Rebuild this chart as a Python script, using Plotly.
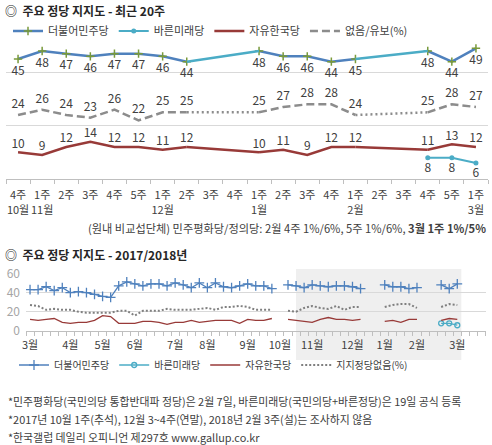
import plotly.graph_objects as go

W, H = 492, 445
FONT = "Noto Sans CJK KR"

# ---------------- data: top chart (recent 20 weeks) ----------------
top_weeks = ["4주", "1주", "2주", "3주", "4주", "5주", "1주", "2주", "3주", "4주",
             "1주", "2주", "3주", "4주", "1주", "2주", "3주", "4주", "5주", "1주"]
top_months = ["10월", "11월", "", "", "", "", "12월", "", "", "",
              "1월", "", "", "", "2월", "", "", "", "", "3월"]
top_minju = [45, 48, 47, 46, 47, 47, 46, 44, None, None, 48, 46, 46, 44, 45, None, None, 48, 44, 49]
top_bareun = [None] * 17 + [8, 8, 6]
top_jayu = [10, 9, 12, 14, 12, 12, 11, 12, None, None, 10, 11, 9, 12, 12, None, None, 11, 13, 12]
top_none = [24, 26, 24, 23, 26, 22, 25, 25, None, None, 25, 27, 28, 28, 24, None, None, 25, 28, 27]

# ---------------- data: bottom chart (2017/2018 weekly) ----------------
# weeks from 2017-03 wk1 up to 2017-10 wk3 (10월 1주 not surveyed), then the 20 weeks above
early_minju = [43, 43, 46, 42, 45, 40, 41, 40, 38, 36, 35, 47, 51, 49, 47, 49, 49, 47, 50,
               48, 45, 50, 45, 50, 46, 45, 47, 49, 47, 47, 44, None, 48, 47]
early_jayu = [12, 11, 12, 13, 9, 8, 9, 9, 11, 16, 15, 8, 8, 8, 10, 10, 9, 7, 9,
              9, 11, 9, 10, 11, 11, 11, 8, 12, 11, 11, 13, None, 12, 11]
early_none = [27, 26, 22, 23, 22, 22, 20, 19, 19, 19, 19, 21, 21, 16, 21, 21, 21, 23, 22,
              22, 22, 23, 24, 22, 25, 25, 26, 25, 22, 22, 22, None, 21, 20]
early_bareun = [None] * 34

bottom_minju = early_minju + top_minju
bottom_jayu = early_jayu + top_jayu
bottom_none = early_none + top_none
bottom_bareun = early_bareun + top_bareun

bottom_month_ticks = [0, 5, 9, 13, 18, 22, 27, 31, 35, 40, 44, 48, 53]
bottom_month_labels = ["3월", "4월", "5월", "6월", "7월", "8월", "9월", "10월",
                       "11월", "12월", "1월", "2월", "3월"]

names_top = ["더불어민주당", "바른미래당", "자유한국당", "없음/유보(%)"]
names_bottom = ["더불어민주당", "바른미래당", "자유한국당", "지지정당없음(%)"]

BLUE = "#4f81bd"
TEAL = "#4bacc6"
RED = "#983a38"
GRAY = "#8c8c8c"
GREEN = "#7a9a3a"
TXT = "#404040"


def px_x(p):
    return p / W


def px_y(p):
    return 1 - p / H


def bridges(vals):
    xs, ys = [], []
    i, n = 0, len(vals)
    while i < n:
        if vals[i] is None and i > 0 and vals[i - 1] is not None:
            j = i
            while j < n and vals[j] is None:
                j += 1
            if j < n:
                xs += [i - 1, j, None]
                ys += [vals[i - 1], vals[j], None]
            i = j
        else:
            i += 1
    return xs, ys


fig = go.Figure()
xt = list(range(len(top_weeks)))

# ---- top chart traces ----
fig.add_trace(go.Scatter(x=xt, y=top_minju, name=names_top[0], mode="lines+markers",
                         line=dict(color=BLUE, width=2.5),
                         marker=dict(symbol="cross-thin", size=6, line=dict(color=GREEN, width=1.5)),
                         legend="legend", xaxis="x", yaxis="y"))
bx, by = bridges(top_minju)
fig.add_trace(go.Scatter(x=bx, y=by, mode="lines", line=dict(color=TEAL, width=2.5),
                         showlegend=False, hoverinfo="skip", xaxis="x", yaxis="y"))
fig.add_trace(go.Scatter(x=xt, y=top_bareun, name=names_top[1], mode="lines+markers",
                         line=dict(color=TEAL, width=2),
                         marker=dict(symbol="circle", size=5, color=TEAL),
                         legend="legend", xaxis="x", yaxis="y"))
fig.add_trace(go.Scatter(x=xt, y=top_jayu, name=names_top[2], mode="lines",
                         line=dict(color=RED, width=2.5),
                         legend="legend", xaxis="x", yaxis="y"))
bx, by = bridges(top_jayu)
fig.add_trace(go.Scatter(x=bx, y=by, mode="lines", line=dict(color=RED, width=2.5),
                         showlegend=False, hoverinfo="skip", xaxis="x", yaxis="y"))
fig.add_trace(go.Scatter(x=xt, y=top_none, name=names_top[3], mode="lines",
                         line=dict(color=GRAY, width=2.5, dash="8px,4px"),
                         legend="legend", xaxis="x", yaxis="y"))
bx, by = bridges(top_none)
fig.add_trace(go.Scatter(x=bx, y=by, mode="lines", line=dict(color=GRAY, width=2.5, dash="2px,3px"),
                         showlegend=False, hoverinfo="skip", xaxis="x", yaxis="y"))

# data labels (invisible markers only set the label offset)
for k, (vals, pos, msize) in enumerate([(top_minju, "bottom center", 9),
                                        (top_bareun, "bottom center", 7),
                                        (top_jayu, "top center", 1),
                                        (top_none, "top center", 5)]):
    fig.add_trace(go.Scatter(x=xt, y=vals, mode="markers+text",
                             marker=dict(size=msize, color="rgba(0,0,0,0)"),
                             text=[("" if v is None else str(v)) for v in vals],
                             textposition=pos, textfont=dict(size=12, color=TXT, family=FONT),
                             showlegend=False, hoverinfo="skip",
                             xaxis=("x3" if k == 0 else "x"), yaxis="y"))

# ---- bottom chart traces ----
xb = list(range(len(bottom_minju)))
fig.add_trace(go.Scatter(x=xb, y=bottom_minju, name=names_bottom[0], mode="lines+markers",
                         line=dict(color=BLUE, width=1.3),
                         marker=dict(symbol="cross-thin", size=7, line=dict(color=BLUE, width=1.3)),
                         legend="legend2", xaxis="x2", yaxis="y2"))
fig.add_trace(go.Scatter(x=xb, y=bottom_bareun, name=names_bottom[1], mode="lines+markers",
                         line=dict(color=TEAL, width=1.3),
                         marker=dict(symbol="circle-open", size=5, color=TEAL, line=dict(width=1.3)),
                         legend="legend2", xaxis="x2", yaxis="y2"))
fig.add_trace(go.Scatter(x=xb, y=bottom_jayu, name=names_bottom[2], mode="lines",
                         line=dict(color=RED, width=1.3),
                         legend="legend2", xaxis="x2", yaxis="y2"))
fig.add_trace(go.Scatter(x=xb, y=bottom_none, name=names_bottom[3], mode="lines",
                         line=dict(color="#7f7f7f", width=2, dash="2px,2px"),
                         legend="legend2", xaxis="x2", yaxis="y2"))

axis_line = "#bfbfbf"
grid = "#d9d9d9"
month_idx = [i for i, m in enumerate(top_months) if m]

fig.update_layout(
    width=W, height=H,
    margin=dict(l=0, r=0, t=0, b=0, autoexpand=False),
    paper_bgcolor="white", plot_bgcolor="rgba(0,0,0,0)",
    font=dict(family=FONT, color=TXT, size=11),
    showlegend=True,
    xaxis=dict(domain=[px_x(6), px_x(488)], range=[-0.5, 19.5],
               tickmode="array", tickvals=xt, ticktext=top_weeks, tickangle=0,
               ticks="", showline=True, linecolor=axis_line, linewidth=1,
               showgrid=False, zeroline=False, ticklabelstandoff=6,
               tickfont=dict(size=11, color=TXT),
               minor=dict(tickmode="array", tickvals=[i - 0.5 for i in range(21)],
                          ticks="outside", ticklen=4, tickcolor=axis_line, showgrid=False),
               fixedrange=True),
    xaxis3=dict(overlaying="x", anchor="y", side="bottom", range=[-0.5, 19.5],
                tickmode="array", tickvals=month_idx,
                ticktext=[top_months[i] for i in month_idx], tickangle=0,
                ticks="", showline=False, showgrid=False, zeroline=False,
                ticklabelstandoff=23, tickfont=dict(size=11, color=TXT), fixedrange=True),
    yaxis=dict(domain=[px_y(179), px_y(19)], range=[0, 60],
               tickmode="array", tickvals=[0, 20, 40, 60], showticklabels=False,
               gridcolor=grid, zeroline=False, showline=False, ticks="", fixedrange=True),
    xaxis2=dict(domain=[px_x(26), px_x(485.5)], range=[-0.5, 56.5], anchor="y2",
                tickmode="array", tickvals=bottom_month_ticks, ticktext=bottom_month_labels,
                tickangle=0,
                ticks="", showline=True, linecolor=axis_line, linewidth=1,
                showgrid=False, zeroline=False, ticklabelstandoff=4,
                tickfont=dict(size=11, color=TXT),
                minor=dict(tickmode="array", tickvals=[i - 0.5 for i in range(58)],
                           ticks="outside", ticklen=4, tickcolor=axis_line, showgrid=False),
                fixedrange=True),
    yaxis2=dict(domain=[px_y(331), px_y(273.3)], range=[0, 60], anchor="x2",
                tickmode="array", tickvals=[0, 20, 40, 60],
                tickfont=dict(size=12, color="#a6a6a6"), ticklabelstandoff=5,
                gridcolor=grid, zeroline=False, showline=False, ticks="", fixedrange=True),
    legend=dict(orientation="h", x=px_x(8), y=px_y(31), xanchor="left", yanchor="middle",
                font=dict(size=11, color=TXT), bgcolor="rgba(0,0,0,0)", traceorder="normal",
                itemwidth=30),
    legend2=dict(orientation="h", x=px_x(14), y=px_y(365), xanchor="left", yanchor="middle",
                 font=dict(size=10, color=TXT), bgcolor="rgba(0,0,0,0)", traceorder="normal",
                 itemwidth=30),
    shapes=[dict(type="rect", xref="x2", yref="paper", x0=33, x1=53.5,
                 y0=px_y(360), y1=px_y(269), fillcolor="#efefef", line=dict(width=0),
                 layer="below")],
    annotations=[
        dict(text="<b>◎  주요 정당 지지도 - 최근 20주</b>", xref="paper", yref="paper",
             x=px_x(3), y=px_y(10), xanchor="left", yanchor="middle", showarrow=False,
             font=dict(size=12, color="#262626")),
        dict(text="(원내 비교섭단체) 민주평화당/정의당: 2월 4주 1%/6%, 5주 1%/6%, <b>3월 1주 1%/5%</b>",
             xref="paper", yref="paper", x=px_x(488), y=px_y(228), xanchor="right",
             yanchor="middle", showarrow=False, font=dict(size=11.2, color=TXT)),
        dict(text="<b>◎  주요 정당 지지도 - 2017/2018년</b>", xref="paper", yref="paper",
             x=px_x(3), y=px_y(255), xanchor="left", yanchor="middle", showarrow=False,
             font=dict(size=12, color="#262626")),
        dict(text="*민주평화당(국민의당 통합반대파 정당)은 2월 7일, 바른미래당(국민의당+바른정당)은 19일 공식 등록",
             xref="paper", yref="paper", x=px_x(6), y=px_y(401), xanchor="left",
             yanchor="middle", showarrow=False, font=dict(size=10.9, color=TXT)),
        dict(text="*2017년 10월 1주(추석), 12월 3~4주(연말), 2018년 2월 3주(설)는 조사하지 않음",
             xref="paper", yref="paper", x=px_x(6), y=px_y(419), xanchor="left",
             yanchor="middle", showarrow=False, font=dict(size=10.9, color=TXT)),
        dict(text="*한국갤럽 데일리 오피니언 제297호 www.gallup.co.kr",
             xref="paper", yref="paper", x=px_x(6), y=px_y(437), xanchor="left",
             yanchor="middle", showarrow=False, font=dict(size=10.9, color=TXT)),
    ],
)

fig.write_html("out.html", config={"displayModeBar": False},
               post_script="document.body.style.margin='0px';")
